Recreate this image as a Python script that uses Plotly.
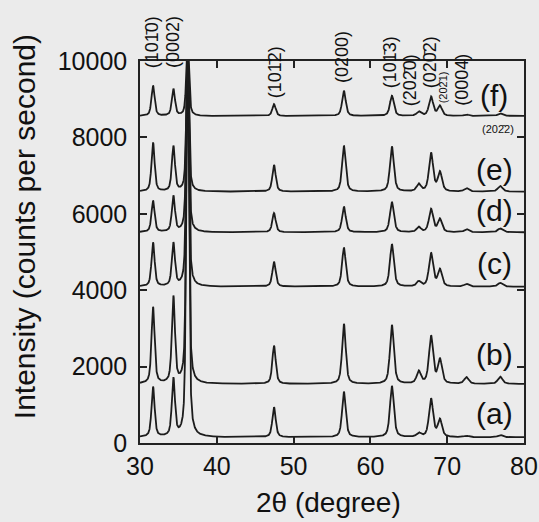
import numpy as np
import plotly.graph_objects as go

# Peak positions (2theta, degree) and half widths
peak_pos = [31.7, 34.35, 36.2, 47.45, 56.55, 62.8, 66.3, 67.9, 69.05, 72.5, 76.9]
peak_hw = [0.24, 0.24, 0.20, 0.26, 0.28, 0.30, 0.32, 0.32, 0.32, 0.34, 0.36]

# Sample names, baselines (cps) and peak heights above baseline (cps)
samples = ["(a)", "(b)", "(c)", "(d)", "(e)", "(f)"]
baselines = [150, 1545, 4092, 5516, 6579, 8560]
heights_a = [1310, 1500, 10500, 785, 1190, 1340, 100, 1000, 450, 35, 60]
heights_b = [2000, 2250, 9000, 1000, 1570, 1540, 320, 1240, 630, 175, 190]
heights_c = [1150, 1120, 6500, 650, 1020, 1110, 130, 870, 440, 70, 100]
heights_d = [820, 930, 5000, 500, 670, 790, 130, 600, 340, 80, 100]
heights_e = [1280, 1180, 3700, 700, 1200, 1180, 190, 1000, 500, 90, 150]
heights_f = [790, 700, 2000, 310, 660, 530, 110, 500, 260, 40, 70]
all_heights = [heights_a, heights_b, heights_c, heights_d, heights_e, heights_f]

# Reflection labels
hkl_labels = ["(101\u03040)", "(0002)", "(101\u03041)", "(101\u03042)", "(0200)",
              "(101\u03043)", "(202\u03040)", "(020\u03042)", "(202\u03041)", "(0004)"]
label_x = [31.6, 34.3, 37.0, 47.6, 56.3, 62.6, 65.2, 67.8, 69.5, 71.9]
label_y = [9764, 9764, 10079, 8979, 9372, 9241, 8770, 9241, 8848, 8770]
label_size = [18, 18, 18, 18, 18, 18, 18, 18, 11, 18]

two_theta = np.linspace(30, 80, 4001)
eta = 0.55  # Lorentzian fraction of the pseudo-Voigt profile

def profile(base, heights):
    y = np.full_like(two_theta, float(base))
    for p, w, h in zip(peak_pos, peak_hw, heights):
        d = (two_theta - p) / w
        y += h * (eta / (1 + d ** 2) + (1 - eta) * np.exp(-np.log(2) * d ** 2))
    return y

fig = go.Figure()
for name, base, h in zip(samples, baselines, all_heights):
    fig.add_trace(go.Scatter(x=two_theta, y=profile(base, h), mode="lines",
                             line=dict(color="#1c1c1c", width=1.8),
                             name=name, showlegend=False))

font = "Liberation Sans, Arial, sans-serif"
annotations = []
for t, x, y, s in zip(hkl_labels, label_x, label_y, label_size):
    annotations.append(dict(x=x, y=y, text=t, textangle=-90, showarrow=False,
                            xanchor="center", yanchor="bottom",
                            font=dict(size=s, color="#111", family=font)))
annotations.append(dict(x=76.6, y=8220, text="(202\u03042)", showarrow=False,
                        xanchor="center", yanchor="middle",
                        font=dict(size=11, color="#111", family=font)))
# Sample labels
sample_label_y = [785, 2304, 4712, 6099, 7147, 9110]
for name, y in zip(samples, sample_label_y):
    annotations.append(dict(x=76.1, y=y, text=name, showarrow=False,
                            xanchor="center", yanchor="middle",
                            font=dict(size=30, color="#111", family=font)))
# Axis titles
annotations.append(dict(xref="paper", yref="paper", x=-0.302, y=0.565,
                        text="Intensity (counts per second)", textangle=-90,
                        showarrow=False, xanchor="center", yanchor="middle",
                        font=dict(size=30, color="#111", family=font)))
annotations.append(dict(xref="paper", yref="paper", x=0.49, y=-0.157,
                        text="2\u03b8 (degree)", showarrow=False,
                        xanchor="center", yanchor="middle",
                        font=dict(size=28, color="#111", family=font)))

axis_common = dict(showline=True, linecolor="#222", linewidth=1.5, mirror="ticks",
                   ticks="inside", ticklen=7, tickwidth=1.5, tickcolor="#222",
                   showgrid=False, zeroline=False, automargin=False,
                   tickfont=dict(size=25, color="#111", family=font))

fig.update_layout(
    width=539, height=522,
    margin=dict(l=140, r=15, t=61, b=79),
    paper_bgcolor="#ebebeb", plot_bgcolor="#ebebeb",
    xaxis=dict(range=[30, 80], tickvals=[30, 40, 50, 60, 70, 80],
               ticktext=["30", "40", "50", "60", "70", "80"], **axis_common),
    yaxis=dict(range=[0, 10000], tickvals=[0, 2000, 4000, 6000, 8000, 10000],
               ticktext=["0", "2000", "4000", "6000", "8000", "10000"],
               ticklabelstandoff=6, **axis_common),
    annotations=annotations,
)

fig.write_html("out.html",
               config={"displayModeBar": False},
               post_script="document.body.style.margin='0';"
                           "document.body.style.overflow='hidden';"
                           "document.body.style.background='#ebebeb';")
